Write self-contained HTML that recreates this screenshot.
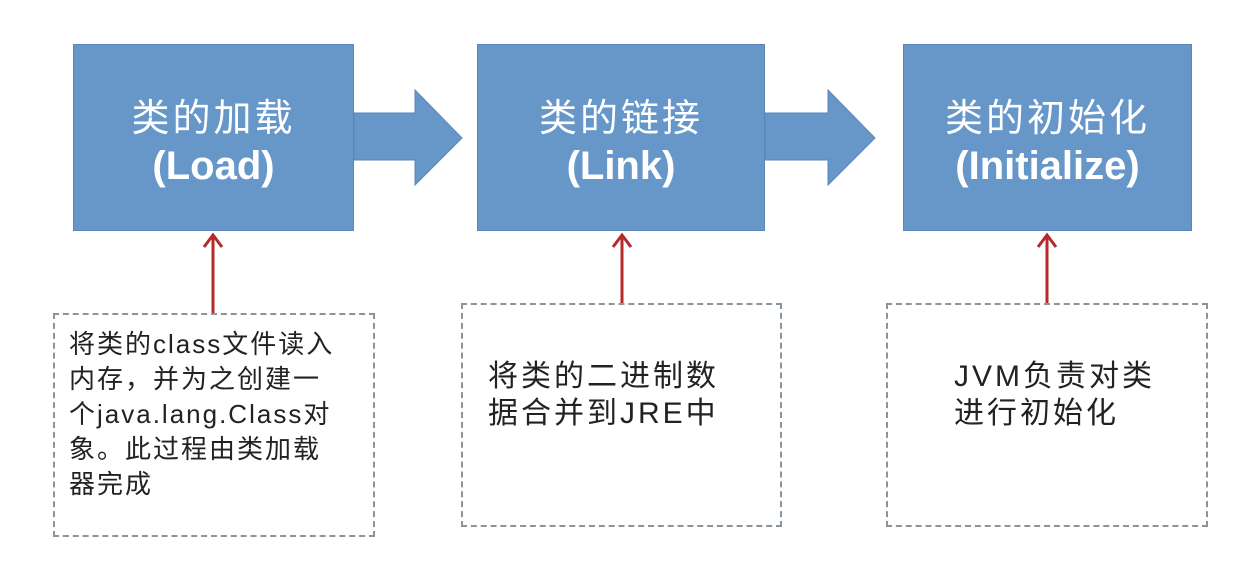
<!DOCTYPE html>
<html><head><meta charset="utf-8"><style>
body{margin:0;width:1252px;height:586px;background:#fff;position:relative;overflow:hidden;font-family:"Liberation Sans","Noto Sans CJK SC",sans-serif}
.b{position:absolute;top:44px;height:187px;background:#6797c9;border:1px solid #5a86b8;box-sizing:border-box;color:#fff;text-align:center;white-space:nowrap}
.b .t{position:absolute;left:0;right:0;top:51px;font-size:38px;letter-spacing:3px;line-height:46px}
.b .e{position:absolute;left:0;right:0;top:98px;font-size:40px;font-weight:bold;line-height:46px}
.d{position:absolute;border:2px dashed #8a949c;box-sizing:border-box;color:#222;white-space:nowrap}
</style></head><body>
<div class="b" style="left:73px;width:281px"><div class="t">类的加载</div><div class="e">(Load)</div></div>
<div class="b" style="left:477px;width:288px"><div class="t">类的链接</div><div class="e">(Link)</div></div>
<div class="b" style="left:903px;width:289px"><div class="t">类的初始化</div><div class="e">(Initialize)</div></div>
<svg width="1252" height="586" style="position:absolute;left:0;top:0">
<polygon points="354,113 415,113 415,90 462,138 415,185 415,160 354,160" fill="#6797c9" stroke="#5a86b8"/>
<polygon points="765,113 828,113 828,90 875,138 828,185 828,160 765,160" fill="#6797c9" stroke="#5a86b8"/>
<g stroke="#b52a2a" stroke-width="3" fill="none">
<line x1="213" y1="235" x2="213" y2="313"/><polyline points="204,247 213,235 222,247"/>
<line x1="622" y1="235" x2="622" y2="303"/><polyline points="613,247 622,235 631,247"/>
<line x1="1047" y1="235" x2="1047" y2="303"/><polyline points="1038,247 1047,235 1056,247"/>
</g></svg>
<div class="d" style="left:53px;top:313px;width:322px;height:224px;padding:12px 0 0 14px;font-size:26px;letter-spacing:2px;line-height:35px">将类的class文件读入<br>内存，并为之创建一<br>个java.lang.Class对<br>象。此过程由类加载<br>器完成</div>
<div class="d" style="left:461px;top:303px;width:321px;height:224px;padding:53px 0 0 25px;font-size:30px;letter-spacing:3px;line-height:37px">将类的二进制数<br>据合并到JRE中</div>
<div class="d" style="left:886px;top:303px;width:322px;height:224px;padding:53px 0 0 66px;font-size:30px;letter-spacing:3px;line-height:37px">JVM负责对类<br>进行初始化</div>
</body></html>
